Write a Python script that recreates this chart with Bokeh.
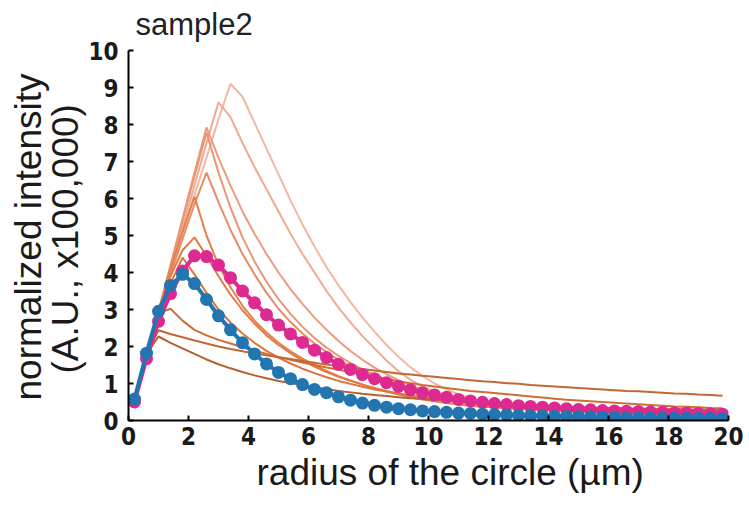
from bokeh.plotting import figure
from bokeh.models import Range1d, FixedTicker, Title
from bokeh.embed import file_html
from bokeh.resources import INLINE

radius = [0.2, 0.6, 1.0, 1.4, 1.8, 2.2, 2.6, 3.0, 3.4, 3.8,
          4.2, 4.6, 5.0, 5.4, 5.8, 6.2, 6.6, 7.0, 7.4, 7.8,
          8.2, 8.6, 9.0, 9.4, 9.8, 10.2, 10.6, 11.0, 11.4, 11.8,
          12.2, 12.6, 13.0, 13.4, 13.8, 14.2, 14.6, 15.0, 15.4, 15.8,
          16.2, 16.6, 17.0, 17.4, 17.8, 18.2, 18.6, 19.0, 19.4, 19.8]

# orange reference curves (highest peak -> lowest peak)
curve_1 = [0.6, 1.8, 2.95, 4.0, 5.05, 6.1, 7.1, 8.15, 9.1, 8.75,
           8.05, 7.35, 6.65, 5.95, 5.3, 4.7, 4.15, 3.65, 3.2, 2.78,
           2.4, 2.04, 1.72, 1.44, 1.2, 1.0, 0.84, 0.71, 0.6, 0.51,
           0.44, 0.39, 0.35, 0.32, 0.29, 0.27, 0.25, 0.235, 0.22, 0.21,
           0.2, 0.19, 0.18, 0.175, 0.17, 0.165, 0.16, 0.155, 0.15, 0.15]
curve_2 = [0.6, 1.8, 2.95, 4.05, 5.2, 6.35, 7.5, 8.6, 8.2, 7.5,
           6.85, 6.25, 5.65, 5.05, 4.5, 4.0, 3.5, 3.05, 2.65, 2.28,
           1.95, 1.62, 1.33, 1.1, 0.92, 0.78, 0.68, 0.6, 0.53, 0.47,
           0.42, 0.38, 0.34, 0.31, 0.28, 0.26, 0.24, 0.225, 0.21, 0.2,
           0.19, 0.18, 0.175, 0.17, 0.165, 0.16, 0.155, 0.15, 0.145, 0.14]
curve_3 = [0.6, 1.8, 2.95, 4.2, 5.45, 6.7, 7.92, 7.1, 6.35, 5.65,
           5.05, 4.5, 4.0, 3.55, 3.15, 2.78, 2.45, 2.15, 1.88, 1.64,
           1.43, 1.25, 1.09, 0.95, 0.83, 0.73, 0.64, 0.57, 0.5, 0.45,
           0.4, 0.36, 0.33, 0.3, 0.28, 0.26, 0.24, 0.225, 0.21, 0.2,
           0.19, 0.18, 0.175, 0.17, 0.165, 0.16, 0.155, 0.15, 0.145, 0.14]
curve_4 = [0.6, 1.8, 2.95, 4.15, 5.4, 6.6, 7.78, 6.7, 5.75, 4.95,
           4.3, 3.75, 3.28, 2.88, 2.53, 2.23, 1.97, 1.75, 1.55, 1.38,
           1.23, 1.1, 0.98, 0.88, 0.79, 0.71, 0.64, 0.58, 0.53, 0.49,
           0.45, 0.42, 0.39, 0.37, 0.35, 0.33, 0.32, 0.31, 0.3, 0.29,
           0.28, 0.275, 0.27, 0.265, 0.26, 0.255, 0.25, 0.245, 0.24, 0.24]
curve_5 = [0.6, 1.8, 2.95, 3.95, 4.9, 5.85, 6.7, 5.9, 5.15, 4.5,
           3.95, 3.45, 3.02, 2.66, 2.35, 2.08, 1.85, 1.64, 1.46, 1.3,
           1.16, 1.03, 0.92, 0.82, 0.73, 0.65, 0.58, 0.52, 0.47, 0.43,
           0.4, 0.37, 0.35, 0.33, 0.31, 0.3, 0.29, 0.28, 0.27, 0.265,
           0.26, 0.255, 0.25, 0.245, 0.24, 0.235, 0.23, 0.225, 0.22, 0.22]
curve_6 = [0.6, 1.8, 2.95, 4.1, 5.1, 6.05, 5.0, 4.2, 3.6, 3.1,
           2.7, 2.38, 2.1, 1.87, 1.67, 1.5, 1.34, 1.2, 1.08, 0.97,
           0.87, 0.78, 0.7, 0.63, 0.57, 0.52, 0.47, 0.43, 0.4, 0.37,
           0.35, 0.33, 0.31, 0.3, 0.29, 0.28, 0.27, 0.265, 0.26, 0.255,
           0.25, 0.245, 0.24, 0.235, 0.23, 0.225, 0.22, 0.215, 0.21, 0.21]
curve_7 = [0.6, 1.8, 2.95, 3.9, 4.6, 4.95, 4.45, 3.9, 3.4, 2.98,
           2.62, 2.3, 2.04, 1.82, 1.62, 1.46, 1.31, 1.18, 1.07, 0.97,
           0.88, 0.8, 0.73, 0.67, 0.62, 0.57, 0.53, 0.5, 0.47, 0.44,
           0.42, 0.4, 0.38, 0.37, 0.35, 0.34, 0.33, 0.32, 0.315, 0.31,
           0.305, 0.3, 0.295, 0.29, 0.285, 0.28, 0.28, 0.275, 0.27, 0.27]
curve_8 = [0.6, 1.8, 2.95, 3.7, 4.4, 3.95, 3.45, 3.0, 2.65, 2.35,
           2.1, 1.88, 1.7, 1.54, 1.4, 1.28, 1.17, 1.07, 0.99, 0.91,
           0.84, 0.78, 0.72, 0.67, 0.63, 0.59, 0.55, 0.52, 0.49, 0.47,
           0.45, 0.43, 0.41, 0.39, 0.38, 0.37, 0.36, 0.35, 0.34, 0.335,
           0.33, 0.325, 0.32, 0.315, 0.31, 0.31, 0.305, 0.3, 0.3, 0.3]
curve_9 = [0.6, 1.8, 2.9, 3.02, 2.7, 2.45, 2.3, 2.18, 2.08, 1.98,
           1.89, 1.8, 1.72, 1.64, 1.57, 1.5, 1.43, 1.37, 1.31, 1.25,
           1.19, 1.13, 1.06, 1.01, 0.96, 0.92, 0.88, 0.84, 0.8, 0.77,
           0.74, 0.71, 0.68, 0.65, 0.62, 0.59, 0.56, 0.54, 0.52, 0.5,
           0.48, 0.46, 0.44, 0.42, 0.4, 0.38, 0.37, 0.36, 0.34, 0.33]
curve_10 = [0.6, 1.8, 2.44, 2.34, 2.25, 2.16, 2.08, 2.0, 1.93, 1.87,
            1.81, 1.76, 1.71, 1.66, 1.61, 1.56, 1.51, 1.47, 1.43, 1.39,
            1.35, 1.31, 1.27, 1.24, 1.21, 1.18, 1.15, 1.12, 1.09, 1.06,
            1.04, 1.01, 0.99, 0.96, 0.94, 0.92, 0.9, 0.88, 0.86, 0.84,
            0.82, 0.8, 0.79, 0.77, 0.75, 0.73, 0.72, 0.7, 0.69, 0.67]
curve_11 = [0.6, 1.8, 2.27, 2.1, 1.95, 1.8, 1.65, 1.52, 1.41, 1.31,
            1.22, 1.14, 1.07, 1.01, 0.95, 0.9, 0.85, 0.8, 0.76, 0.72,
            0.69, 0.66, 0.63, 0.6, 0.58, 0.56, 0.54, 0.52, 0.5, 0.48,
            0.46, 0.45, 0.43, 0.42, 0.4, 0.39, 0.37, 0.36, 0.35, 0.34,
            0.33, 0.32, 0.31, 0.3, 0.29, 0.28, 0.27, 0.27, 0.26, 0.25]

curves = [curve_1, curve_2, curve_3, curve_4, curve_5, curve_6,
          curve_7, curve_8, curve_9, curve_10, curve_11]
curve_colors = ["#F2B7A2", "#EFAA90", "#EC9C7E", "#EA9576", "#E88C66",
                "#E5804E", "#E27A42", "#DC763C", "#CF6E34", "#C26832", "#B5612E"]

magenta_series = [0.5, 1.67, 2.68, 3.43, 4.04, 4.45, 4.43, 4.2, 3.86, 3.5,
                  3.18, 2.86, 2.58, 2.34, 2.11, 1.9, 1.7, 1.52, 1.38, 1.24,
                  1.13, 1.02, 0.92, 0.83, 0.75, 0.69, 0.63, 0.57, 0.53, 0.49,
                  0.46, 0.43, 0.4, 0.38, 0.36, 0.34, 0.32, 0.3, 0.29, 0.27,
                  0.26, 0.25, 0.24, 0.23, 0.22, 0.21, 0.2, 0.19, 0.18, 0.17]
blue_series = [0.58, 1.82, 2.95, 3.65, 3.95, 3.7, 3.27, 2.83, 2.45, 2.1,
               1.8, 1.53, 1.3, 1.13, 0.97, 0.84, 0.75, 0.64, 0.55, 0.47,
               0.41, 0.36, 0.32, 0.29, 0.26, 0.24, 0.22, 0.2, 0.19, 0.17,
               0.16, 0.15, 0.14, 0.13, 0.12, 0.115, 0.11, 0.1, 0.095, 0.09,
               0.085, 0.08, 0.075, 0.07, 0.065, 0.06, 0.058, 0.055, 0.052, 0.05]

x_ticks = [0, 2, 4, 6, 8, 10, 12, 14, 16, 18, 20]
y_ticks = [0, 1, 2, 3, 4, 5, 6, 7, 8, 9, 10]

TICK_FONT = "DejaVu Sans Condensed"
LABEL_FONT = "Liberation Sans"
TEXT_COLOR = "#1a1a1a"

p = figure(frame_width=600, frame_height=370,
           min_border_left=128, min_border_right=15,
           min_border_top=50, min_border_bottom=80,
           x_range=Range1d(0, 20), y_range=Range1d(0, 10),
           output_backend="svg", toolbar_location=None,
           title="sample2")
p.outline_line_color = None
p.grid.visible = False
p.background_fill_color = "white"
p.border_fill_color = "white"

p.title.text_font = LABEL_FONT
p.title.text_font_size = "31px"
p.title.text_font_style = "normal"
p.title.text_color = "#222222"
p.title.offset = 7
p.title.standoff = 13
p.title.vertical_align = "top"

for ax in (p.xaxis[0], p.yaxis[0]):
    ax.axis_line_width = 2
    ax.axis_line_color = "black"
    ax.major_tick_line_width = 2
    ax.major_tick_in = 5
    ax.major_tick_out = 0
    ax.minor_tick_line_color = None
    ax.major_label_text_font = TICK_FONT
    ax.major_label_text_font_style = "bold"
    ax.major_label_text_font_size = "24px"
    ax.major_label_text_color = TEXT_COLOR

p.xaxis[0].ticker = FixedTicker(ticks=x_ticks)
p.yaxis[0].ticker = FixedTicker(ticks=y_ticks)
p.xaxis[0].major_label_standoff = 6
p.yaxis[0].major_label_standoff = 10

def side_title(text, offset, standoff, valign):
    t = Title(text=text, align="left", offset=offset, standoff=standoff,
              vertical_align=valign, text_font=LABEL_FONT,
              text_font_size="37px", text_font_style="normal",
              text_color=TEXT_COLOR)
    return t

# axis titles
p.add_layout(side_title("radius of the circle (µm)", 128, 8, "top"), "below")
p.add_layout(side_title("(A.U., x100,000)", 47, 0, "bottom"), "left")
p.add_layout(side_title("normalized intensity", 20, -12, "bottom"), "left")

for ys, col in zip(curves, curve_colors):
    p.line(radius, ys, line_color=col, line_width=2)

p.line(radius, magenta_series, line_color="#DD2A91", line_width=4)
p.scatter(radius, magenta_series, size=13, fill_color="#DD2A91", line_color=None)
p.line(radius, blue_series, line_color="#2375B0", line_width=4)
p.scatter(radius, blue_series, size=13, fill_color="#2375B0", line_color=None)

open("out.html", "w").write(file_html(p, INLINE))
